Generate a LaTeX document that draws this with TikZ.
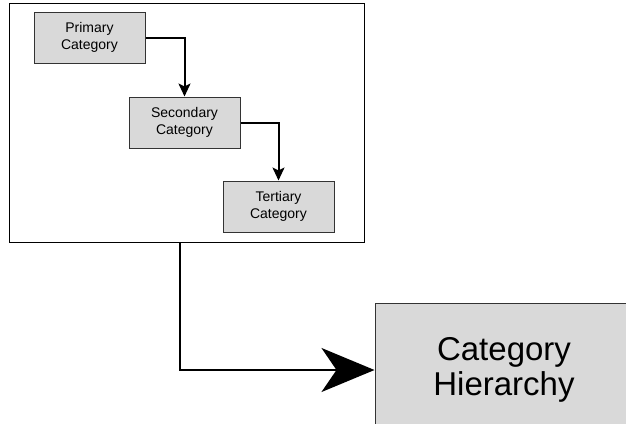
\documentclass[tikz,border=0pt]{standalone}
\usepackage{fontspec}
\setmainfont{Liberation Sans}
\usetikzlibrary{arrows.meta}
\definecolor{boxgray}{HTML}{D9D9D9}
\definecolor{edgegray}{HTML}{333333}
\begin{document}
\begin{tikzpicture}[x=1pt,y=-1pt,
  cat/.style={draw=edgegray,fill=boxgray,line width=1pt,minimum width=111pt,minimum height=51pt,inner sep=0pt,align=center,font=\fontsize{14}{17}\selectfont},
  link/.style={line width=2pt,-{Stealth[length=13pt,width=12pt,inset=3pt]}}]
\useasboundingbox (0,0) rectangle (626,423);
\node[draw=black,line width=1pt,minimum width=355pt,minimum height=239pt,inner sep=0pt] (frame) at (186.5,122.5) {};
\node[cat] (prim) at (89.5,37.5) {Primary\\Category};
\node[cat] (sec) at (184.5,122.5) {Secondary\\Category};
\node[cat] (tert) at (278.5,206.5) {Tertiary\\Category};
\node[draw=edgegray,fill=boxgray,line width=1pt,minimum width=258pt,minimum height=134pt,inner sep=0pt,align=center,font=\fontsize{33}{35}\selectfont] (hier) at (504,370) {Category\\Hierarchy};
\draw[link] (prim.east) -| (sec.north);
\draw[link] (sec.east) -| (tert.north);
\draw[line width=2pt,-{Stealth[length=53pt,width=44pt,inset=15pt]}] ([xshift=-6.5pt]frame.south) |- (hier.west);
\end{tikzpicture}
\end{document}
